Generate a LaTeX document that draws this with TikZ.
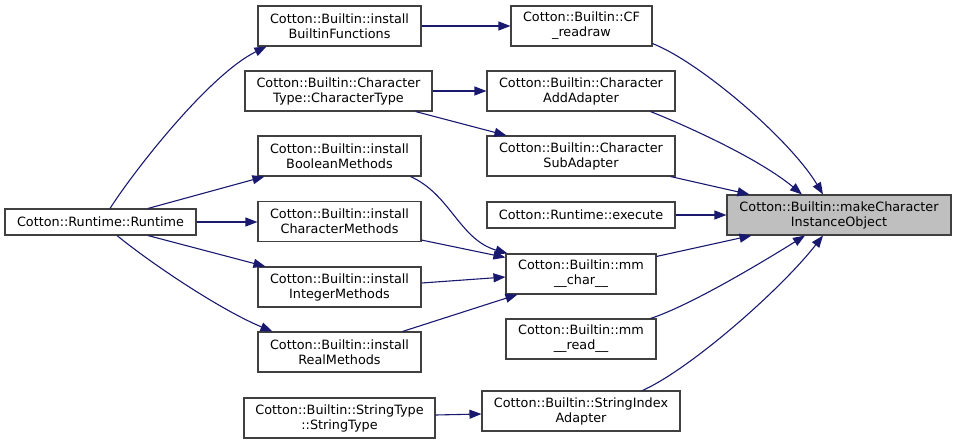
\documentclass[tikz,border=0pt]{standalone}
\usepackage{fontspec}
\setmainfont{DejaVu Sans}
\usetikzlibrary{arrows.meta,calc}
\definecolor{edgeblue}{HTML}{191970}
\definecolor{boxline}{HTML}{404040}
\definecolor{hilite}{HTML}{BFBFBF}
\tikzset{
  box/.style={draw=boxline, line width=1.1pt, fill=white, align=center, inner sep=0pt,
    font=\fontsize{12.8}{15}\selectfont, minimum height=40pt},
  sbox/.style={box, minimum height=26pt},
  edge/.style={draw=edgeblue, line width=1.1pt, -{Triangle[length=12pt,width=9pt]}}
}
\begin{document}
\begin{tikzpicture}[x=1pt,y=-1pt]
\useasboundingbox (0,0) rectangle (956,444);
% nodes
\node[sbox, minimum width=191pt] (rt) at (100.5,222) {Cotton::Runtime::Runtime};
\node[box, minimum width=163pt] (ibf) at (339.5,26) {Cotton::Builtin::install\\BuiltinFunctions};
\node[box, minimum width=187pt] (ctype) at (338.5,91) {Cotton::Builtin::Character\\Type::CharacterType};
\node[box, minimum width=163pt] (ibool) at (339.5,156) {Cotton::Builtin::install\\BooleanMethods};
\node[box, minimum width=163pt] (ichar) at (339.5,221.5) {Cotton::Builtin::install\\CharacterMethods};
\node[box, minimum width=163pt] (iint) at (339.5,287) {Cotton::Builtin::install\\IntegerMethods};
\node[box, minimum width=163pt] (ireal) at (339.5,352) {Cotton::Builtin::install\\RealMethods};
\node[box, minimum width=191pt] (stype) at (339.5,418) {Cotton::Builtin::StringType\\::StringType};
\node[box, minimum width=141pt] (cfr) at (581.5,26) {Cotton::Builtin::CF\\\_readraw};
\node[box, minimum width=188pt] (cadd) at (581,91) {Cotton::Builtin::Character\\AddAdapter};
\node[box, minimum width=188pt] (csub) at (581,156) {Cotton::Builtin::Character\\SubAdapter};
\node[sbox, minimum width=188pt] (exec) at (581,215) {Cotton::Runtime::execute};
\node[box, minimum width=150pt] (mchar) at (581,274) {Cotton::Builtin::mm\\\_\_char\_\_};
\node[box, minimum width=150pt] (mread) at (581,339) {Cotton::Builtin::mm\\\_\_read\_\_};
\node[box, minimum width=198pt] (sidx) at (581,411) {Cotton::Builtin::StringIndex\\Adapter};
\node[box, minimum width=224pt, fill=hilite] (mk) at (839,215) {Cotton::Builtin::makeCharacter\\InstanceObject};
% edges
\draw[edge] ([xshift=9.5pt]rt.north) .. controls +(25,-39) and +(-57,28) .. ([xshift=9pt]ibf.south west);
\draw[edge] ([xshift=47.5pt]rt.north) -- ([xshift=7pt]ibool.south west);
\draw[edge] (rt.east) -- (rt.east -| ichar.west);
\draw[edge] ([xshift=47.5pt]rt.south) -- ([xshift=8pt]iint.north west);
\draw[edge] ([xshift=16.5pt]rt.south) .. controls +(33,27) and +(-53,-22) .. ([xshift=15pt]ireal.north west);
\draw[edge] (ibf.east) -- (cfr.west);
\draw[edge] (ctype.east) -- (cadd.west);
\draw[edge] ([xshift=-17pt]ctype.south east) -- ([xshift=20pt]csub.north west);
\draw[edge] ([xshift=-11pt]ibool.south east) .. controls +(40,18) and +(-48,-14) .. ([xshift=2pt]mchar.north west);
\draw[edge] ($(ichar.south east)+(0,-2)$) -- ($(mchar.north west)+(0,4)$);
\draw[edge] ($(iint.east)+(0,-4)$) -- ($(mchar.west)+(0,3)$);
\draw[edge] ([xshift=-19pt]ireal.north east) -- ([xshift=12pt]mchar.south west);
\draw[edge] ($(stype.east)+(0,-3)$) -- ($(sidx.west)+(0,3)$);
\draw[edge] ($(cfr.south east)+(0,-3)$) .. controls +(48,19) and +(-33,-55) .. ([xshift=-16pt]mk.north);
\draw[edge] ([xshift=-25pt]cadd.south east) .. controls +(40,16) and +(-42,-35) .. ([xshift=-37pt]mk.north);
\draw[edge] ([xshift=-5pt]csub.south east) -- ([xshift=23pt]mk.north west);
\draw[edge] (exec.east) -- (mk.west);
\draw[edge] ($(mchar.north east)+(0,3)$) -- ([xshift=25pt]mk.south west);
\draw[edge] ([xshift=-6pt]mread.north east) .. controls +(40,-13) and +(-40,25) .. ([xshift=-34pt]mk.south);
\draw[edge] ([xshift=-38pt]sidx.north east) .. controls +(47,-21) and +(-43,55) .. ([xshift=-16pt]mk.south);
\end{tikzpicture}
\end{document}
